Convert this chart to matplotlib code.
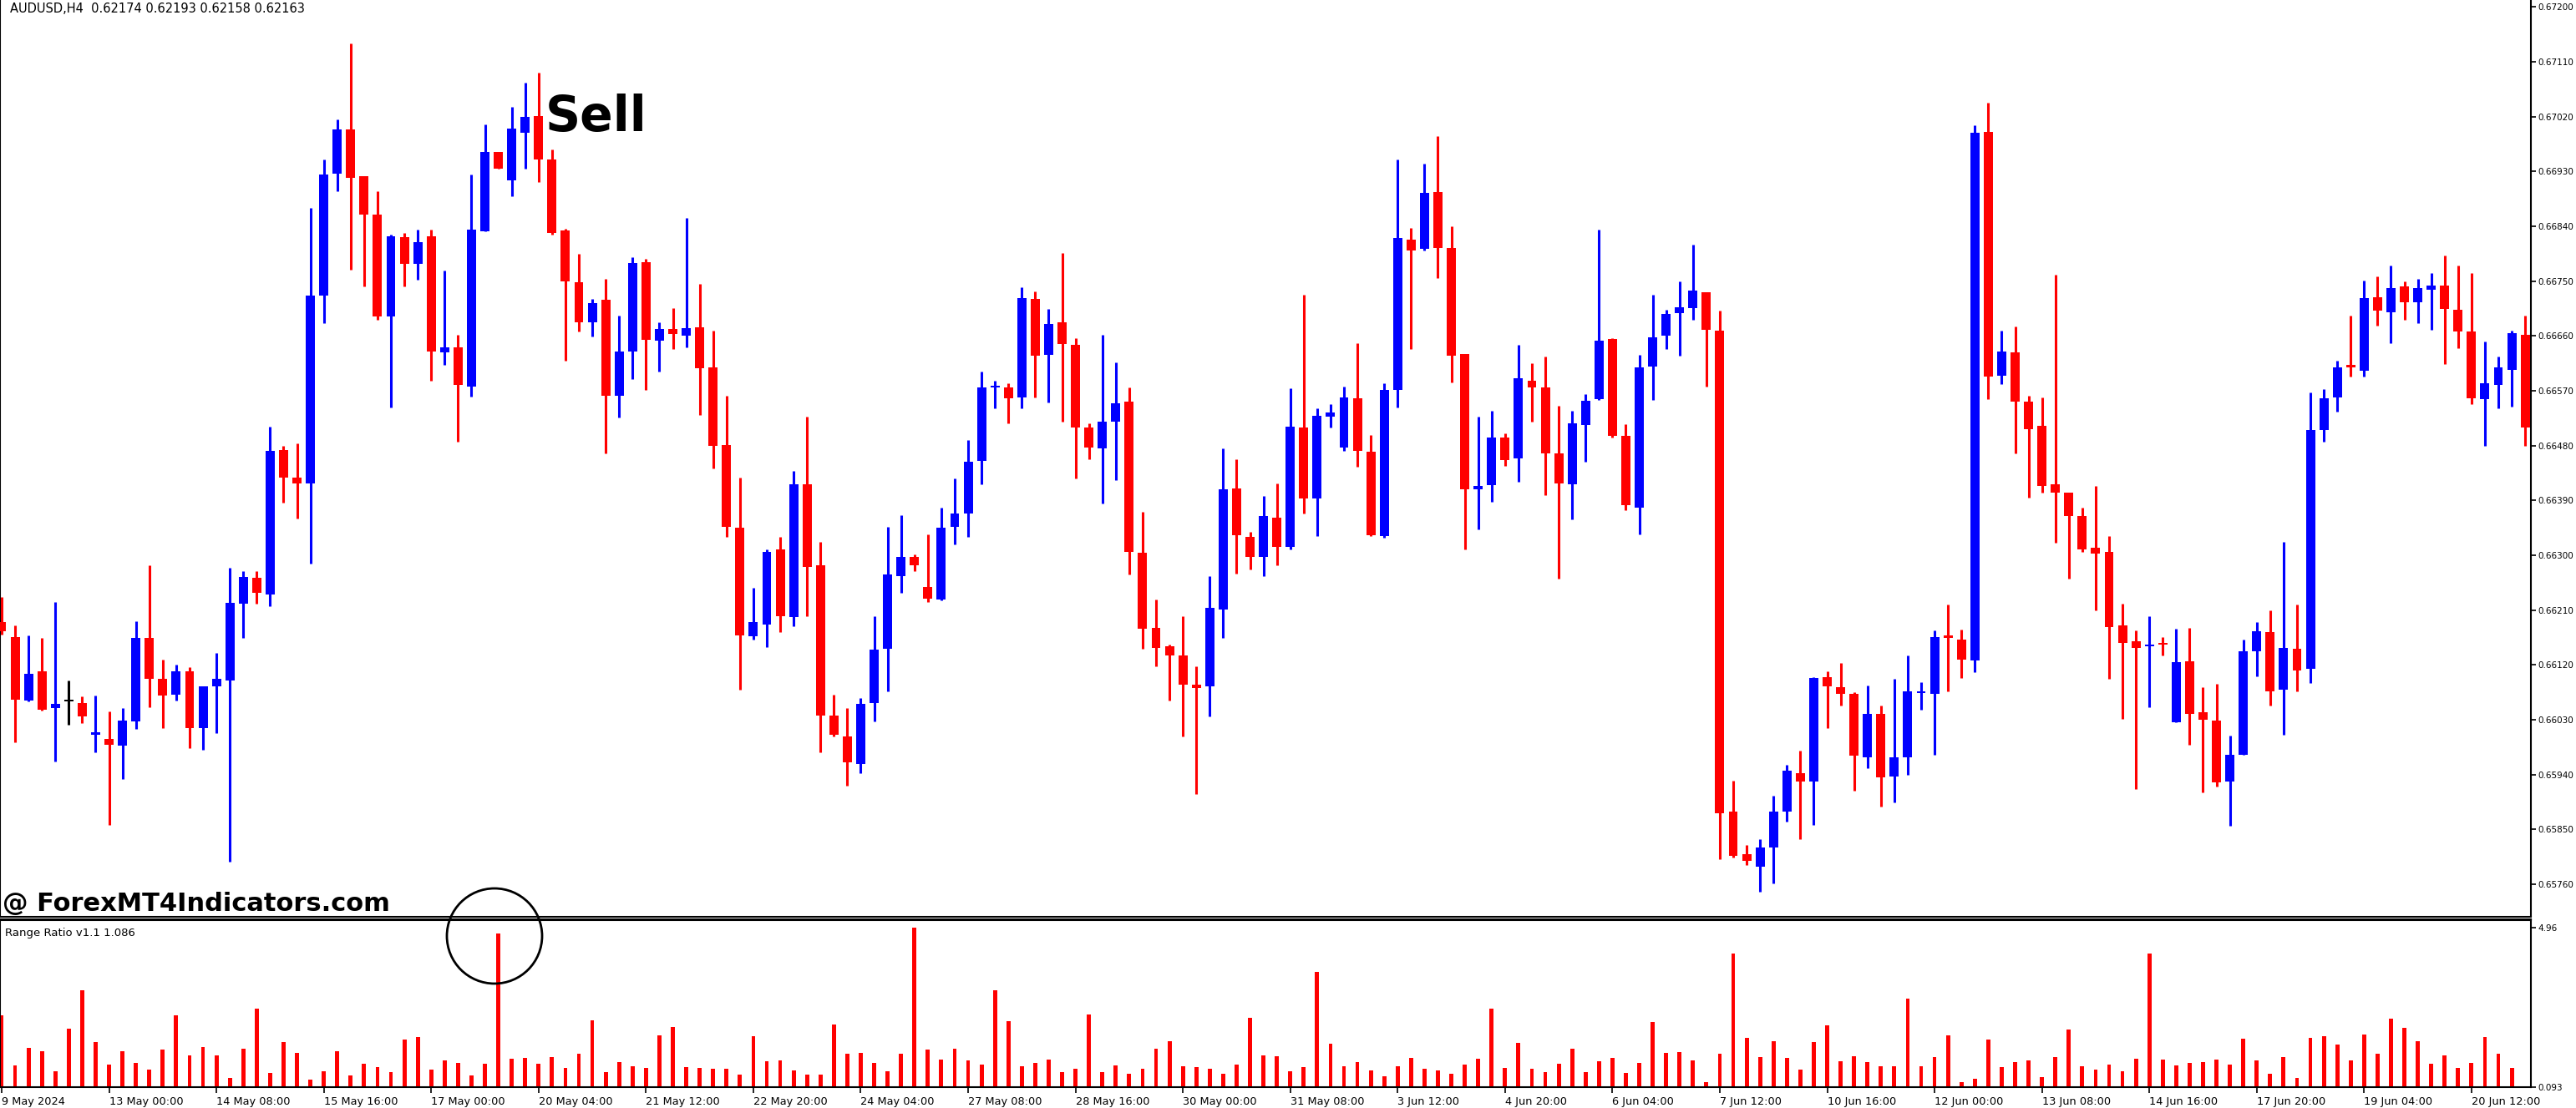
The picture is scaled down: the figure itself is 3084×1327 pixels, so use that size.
import numpy as np
import matplotlib
matplotlib.use("Agg")
import matplotlib.pyplot as plt
from matplotlib.patches import Ellipse

# OHLC in units of 1e-5
opens = [66191,66166,66062,66110,66049,66060,66058,66006,65998,65988,66027,66164,66097,66071,66109,66017,66085,66095,66221,66263,
         66236,66473,66428,66418,66726,66927,66999,66922,66859,66692,66822,66779,66824,66633,66642,66577,66832,66962,66915,66994,
         67021,66950,66833,66748,66682,66719,66562,66635,66781,66652,66671,66661,66674,66609,66481,66345,66167,66187,66309,66199,
         66416,66284,66037,66003,65957,66058,66147,66266,66297,66248,66228,66346,66369,66455,66575,66576,66559,66721,66629,66683,
         66645,66510,66476,66519,66552,66304,66181,66151,66136,66088,66085,66211,66410,66330,66297,66362,66314,66510,66393,66527,
         66477,66558,66470,66331,66571,66818,66803,66896,66805,66631,66408,66415,66494,66459,66587,66576,66467,66417,66514,66557,
         66655,66496,66378,66610,66661,66697,66706,66732,66669,65879,65809,65789,65821,65879,65943,65929,66100,66084,66073,65969,
         66039,65937,65969,66074,66072,66167,66162,66127,66995,66595,66633,66552,66512,66417,66403,66364,66313,66306,66185,66159,
         66151,66155,66026,66126,66042,66029,65929,65972,66143,66174,66079,66146,66114,66506,66559,66612,66603,66724,66699,66741,
         66716,66736,66743,66703,66667,66557,66580,66605,66662]
highs = [66231,66185,66169,66164,66224,66094,66068,66070,66044,66049,66192,66284,66129,66121,66116,66085,66140,66279,66274,66274,
         66511,66479,66484,66870,66950,67015,67140,66922,66898,66826,66829,66835,66834,66767,66662,66925,67007,66962,67036,67076,
         67092,66966,66836,66795,66721,66754,66693,66790,66786,66683,66706,66854,66745,66669,66562,66428,66246,66310,66330,66438,
         66527,66322,66071,66049,66066,66200,66346,66366,66302,66334,66378,66426,66489,66601,66587,66582,66740,66733,66704,66796,
         66657,66517,66662,66616,66576,66371,66228,66154,66200,66118,66266,66476,66458,66339,66397,66418,66574,66728,66541,66548,
         66577,66648,66497,66583,66950,66838,66943,66988,66840,66631,66527,66537,66500,66645,66615,66626,66545,66537,66564,66835,
         66657,66515,66629,66728,66703,66750,66810,66732,66702,65930,65825,65834,65905,65956,65979,66100,66109,66123,66075,66086,
         66053,66097,66135,66092,66177,66219,66178,67006,67043,66669,66676,66562,66559,66760,66403,66378,66414,66332,66221,66177,
         66200,66166,66180,66181,66084,66089,66004,66162,66190,66209,66322,66219,66567,66573,66620,66693,66751,66758,66776,66750,
         66754,66764,66792,66776,66764,66651,66626,66669,66694]
lows = [66170,65993,66060,66045,65962,66022,66025,65977,65858,65933,66015,66051,66017,66061,65984,65981,66008,65797,66165,66220,
        66216,66387,66360,66286,66681,66898,66769,66742,66687,66543,66741,66752,66587,66613,66486,66560,66832,66935,66889,66934,
        66913,66827,66620,66667,66659,66467,66526,66589,66572,66601,66638,66642,66531,66443,66330,66080,66162,66150,66174,66184,
        66200,65976,66003,65922,65943,66027,66076,66239,66274,66224,66226,66318,66330,66416,66541,66516,66541,66559,66551,66519,
        66426,66458,66385,66423,66268,66147,66118,66062,66002,65908,66036,66164,66270,66277,66266,66284,66310,66368,66332,66510,
        66471,66445,66332,66329,66543,66638,66800,66755,66584,66310,66343,66388,66447,66421,66519,66399,66262,66359,66454,66555,
        66494,66374,66334,66555,66638,66627,66687,66577,65801,65804,65792,65748,65762,65863,65834,65857,66017,66053,65914,65951,
        65888,65895,65939,66046,65973,66076,66098,66108,66557,66581,66467,66394,66403,66320,66262,66306,66209,66097,66032,65916,
        66050,66135,66026,65989,65911,65921,65856,65972,66101,66053,66005,66077,66091,66487,66536,66594,66594,66677,66648,66687,
        66681,66670,66614,66640,66548,66480,66541,66544,66480]
closes = [66175,66063,66106,66047,66056,66060,66036,66008,65989,66029,66164,66097,66070,66110,66017,66085,66097,66222,66265,66239,
          66471,66428,66418,66726,66925,66999,66919,66859,66692,66824,66779,66814,66634,66641,66580,66835,66962,66935,67001,67019,
          66950,66829,66749,66682,66714,66562,66635,66780,66653,66671,66663,66673,66607,66479,66346,66169,66190,66306,66200,66416,
          66281,66037,66005,65960,66056,66145,66268,66297,66283,66229,66345,66368,66454,66576,66577,66558,66722,66627,66680,66647,
          66510,66477,66519,66550,66305,66180,66148,66136,66087,66082,66214,66409,66333,66297,66364,66314,66511,66393,66529,66535,
          66559,66471,66333,66571,66821,66801,66895,66805,66627,66408,66414,66493,66456,66590,66575,66467,66418,66516,66554,66652,
          66496,66382,66609,66658,66696,66707,66735,66670,65877,65806,65799,65821,65879,65946,65929,66098,66085,66072,65971,66040,
          65935,65969,66077,66076,66166,66165,66129,66993,66593,66635,66552,66507,66414,66403,66364,66310,66303,66182,66156,66148,
          66153,66153,66124,66039,66030,65927,65972,66143,66175,66077,66148,66111,66506,66558,66609,66608,66722,66701,66739,66716,
          66738,66743,66705,66667,66558,66583,66609,66664,66510]

range_ratio = [2.28,0.76,1.29,1.19,0.58,1.88,3.05,1.48,0.78,1.19,0.83,0.63,1.24,2.28,1.06,1.32,1.06,0.37,1.27,2.49,
               0.53,1.47,1.14,0.32,0.58,1.19,0.45,0.81,0.70,0.55,1.55,1.62,0.63,0.91,0.83,0.45,0.81,4.78,0.96,0.99,
               0.81,1.01,0.68,1.11,2.13,0.55,0.86,0.73,0.68,1.67,1.93,0.70,0.68,0.65,0.65,0.48,1.65,0.88,0.91,0.60,
               0.48,0.48,2.00,1.11,1.14,0.83,0.58,1.11,4.96,1.24,0.93,1.27,0.91,0.78,3.05,2.11,0.73,0.83,0.93,0.55,
               0.65,2.31,0.55,0.76,0.50,0.65,1.27,1.49,0.73,0.70,0.65,0.50,0.78,2.21,1.06,1.04,0.58,
               0.70,3.61,1.42,0.73,0.86,0.60,0.42,0.73,0.99,0.65,0.60,0.50,0.78,0.96,2.49,0.68,1.44,0.65,0.55,0.81,
               1.27,0.55,0.88,0.99,0.53,0.83,2.08,1.14,1.16,0.91,0.25,1.11,4.17,1.60,1.01,1.49,0.99,0.63,1.47,1.98,
               0.88,1.04,0.86,0.73,0.73,2.79,0.73,1.01,1.67,0.25,0.35,1.55,0.70,0.86,0.91,0.40,1.01,1.85,0.73,0.63,
               0.78,0.58,0.96,4.17,0.93,0.76,0.83,0.86,0.93,0.78,1.57,0.91,0.50,1.01,0.37,1.60,1.65,1.39,0.91,1.70,
               1.11,2.18,1.90,1.49,0.81,1.06,0.68,0.83,1.62,1.11,0.68]

date_labels = ["9 May 2024","13 May 00:00","14 May 08:00","15 May 16:00","17 May 00:00","20 May 04:00",
               "21 May 12:00","22 May 20:00","24 May 04:00","27 May 08:00","28 May 16:00","30 May 00:00",
               "31 May 08:00","3 Jun 12:00","4 Jun 20:00","6 Jun 04:00","7 Jun 12:00","10 Jun 16:00",
               "12 Jun 00:00","13 Jun 08:00","14 Jun 16:00","17 Jun 20:00","19 Jun 04:00","20 Jun 12:00"]
price_ticks = [0.67200,0.67110,0.67020,0.66930,0.66840,0.66750,0.66660,0.66570,0.66480,0.66390,
               0.66300,0.66210,0.66120,0.66030,0.65940,0.65850,0.65760]

O = np.array(opens)/1e5; H = np.array(highs)/1e5; L = np.array(lows)/1e5; C = np.array(closes)/1e5
n = len(O)
x = np.arange(n)

W, Hh = 3084, 1327
fig = plt.figure(figsize=(W/100, Hh/100), dpi=100)
fig.patch.set_facecolor("white")
right_px = 3030
ax = fig.add_axes([0, (Hh-1097)/Hh, right_px/W, 1097/Hh])
ax2 = fig.add_axes([0, (Hh-1302)/Hh, right_px/W, (1302-1101)/Hh])

cols = []
for o, c in zip(O, C):
    if abs(o-c) < 1e-9:
        cols.append("black")
    elif c > o:
        cols.append("#0000FF")
    else:
        cols.append("#FF0000")

ax.vlines(x, L, H, colors=cols, linewidth=2.2, zorder=2)
bottoms = np.minimum(O, C)
heights = np.maximum(np.abs(C-O), 0.00003)
ax.bar(x, heights, bottom=bottoms, width=0.68, color=cols, linewidth=0, zorder=3)

xl = (-2/16.07, (right_px-2)/16.07)
ax.set_xlim(*xl)
ax.set_ylim(0.657080, 0.672115)
ax.yaxis.tick_right()
ax.set_yticks(price_ticks)
ax.set_yticklabels([f"{p:.5f}" for p in price_ticks])
ax.tick_params(axis="y", direction="out", length=4, width=1.2, labelsize=7.5, pad=2, colors="black")
ax.set_xticks([])
for s in ["top", "bottom"]:
    ax.spines[s].set_visible(False)
ax.spines["left"].set_linewidth(1.5)
ax.spines["right"].set_linewidth(1.5)

ax.text(0.004, 0.997, "AUDUSD,H4  0.62174 0.62193 0.62158 0.62163", transform=ax.transAxes,
        ha="left", va="top", fontsize=10.5, color="black")
ax.text(653/right_px, 1-140/1097, "Sell", transform=ax.transAxes, ha="left", va="center",
        fontsize=42, fontweight="heavy", color="black")
ax.text(3/right_px, 1-1083/1097, "@ ForexMT4Indicators.com", transform=ax.transAxes, ha="left",
        va="center", fontsize=22, fontweight="bold", color="black")

# indicator panel
ax2.bar(x[:len(range_ratio)], np.array(range_ratio)-0.093, bottom=0.093, width=0.3,
        color="#FF0000", linewidth=0)
ax2.set_xlim(*xl)
ax2.set_ylim(0.093, 5.21)
ax2.yaxis.tick_right()
ax2.set_yticks([4.96, 0.093])
ax2.set_yticklabels(["4.96", "0.093"])
ax2.tick_params(axis="y", direction="out", length=4, width=1.2, labelsize=7.5, pad=2)
ax2.set_xticks(np.arange(0, n, 8)[:len(date_labels)])
ax2.set_xticklabels(date_labels)
for lab in ax2.get_xticklabels():
    lab.set_ha("left")
ax2.tick_params(axis="x", direction="out", length=5, width=1.2, labelsize=9.3, pad=3)
for s in ax2.spines.values():
    s.set_linewidth(1.5)
ax2.text(0.002, 0.95, "Range Ratio v1.1 1.086", transform=ax2.transAxes, ha="left", va="top",
         fontsize=9.5, color="black")

# separator double line
for yy in (1097.5, 1101.5):
    fig.add_artist(plt.Line2D([0, right_px/W], [1-yy/Hh, 1-yy/Hh], color="black", linewidth=1.5,
                              transform=fig.transFigure))

# circle highlight
fig.add_artist(Ellipse((592/W, 1-1121/Hh), 114/W, 114/Hh, transform=fig.transFigure,
                       fill=False, edgecolor="black", linewidth=2, zorder=10))

fig.savefig("out.png", dpi=100, facecolor="white")
